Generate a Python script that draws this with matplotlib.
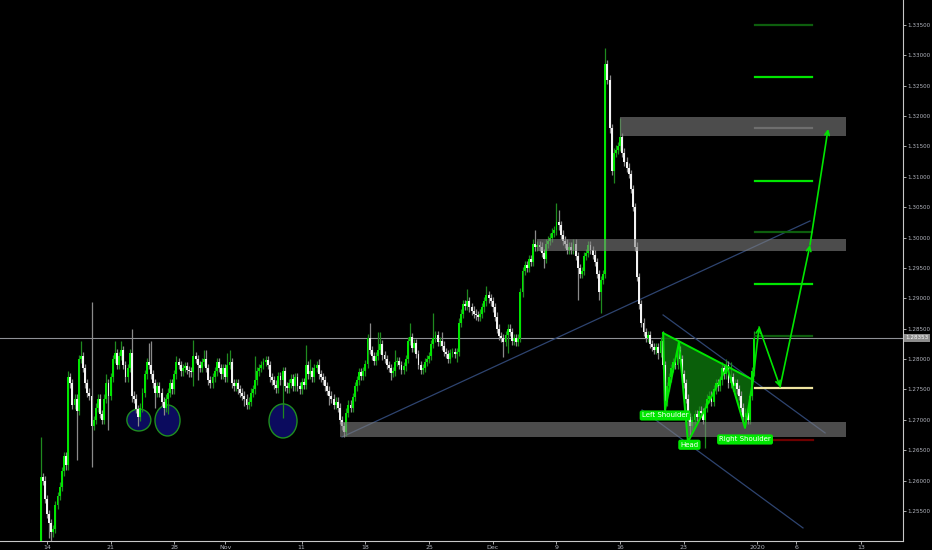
import numpy as np
import matplotlib
matplotlib.use("Agg")
import matplotlib.pyplot as plt
from matplotlib.patches import Rectangle, Ellipse, Polygon

# 4h candles, bar 0 = mon 14 oct 2019
first_bar = -3
first_open = 1.2480
closes = [
    1.2606, 1.2600, 1.2570, 1.2545, 1.2530, 1.2515, 1.2520, 1.2560, 1.2575, 1.2590,
    1.2615, 1.2640, 1.2625, 1.2770, 1.2760, 1.2725, 1.2735, 1.2715, 1.2800, 1.2805,
    1.2785, 1.2760, 1.2745, 1.2740, 1.2690, 1.2700, 1.2720, 1.2735, 1.2710, 1.2700,
    1.2735, 1.2760, 1.2740, 1.2770, 1.2800, 1.2810, 1.2790, 1.2805, 1.2815, 1.2790,
    1.2770, 1.2785, 1.2810, 1.2740, 1.2735, 1.2718, 1.2705, 1.2720, 1.2745, 1.2775,
    1.2795, 1.2790, 1.2775, 1.2760, 1.2745, 1.2755, 1.2745, 1.2730, 1.2720, 1.2735,
    1.2745, 1.2760, 1.2750, 1.2775, 1.2795, 1.2790, 1.2780, 1.2785, 1.2788, 1.2782,
    1.2780, 1.2778, 1.2805, 1.2800, 1.2790, 1.2785, 1.2795, 1.2800, 1.2785, 1.2765,
    1.2760, 1.2770, 1.2780, 1.2795, 1.2785, 1.2775, 1.2785, 1.2770, 1.2790, 1.2795,
    1.2760, 1.2755, 1.2760, 1.2750, 1.2745, 1.2740, 1.2735, 1.2725, 1.2730, 1.2745,
    1.2750, 1.2765, 1.2780, 1.2785, 1.2790, 1.2795, 1.2798, 1.2790, 1.2770, 1.2765,
    1.2758, 1.2752, 1.2772, 1.2765, 1.2780, 1.2755, 1.2752, 1.2760, 1.2768, 1.2755,
    1.2770, 1.2755, 1.2750, 1.2762, 1.2758, 1.2790, 1.2775, 1.2780, 1.2770, 1.2785,
    1.2790, 1.2775, 1.2770, 1.2765, 1.2755, 1.2748, 1.2740, 1.2735, 1.2725, 1.2730,
    1.2720, 1.2700, 1.2690, 1.2680, 1.2712, 1.2725, 1.2720, 1.2738, 1.2755, 1.2765,
    1.2778, 1.2772, 1.2780, 1.2792, 1.2835, 1.2815, 1.2805, 1.2797, 1.2805, 1.2815,
    1.2825, 1.2806, 1.2800, 1.2790, 1.2785, 1.2777, 1.2780, 1.2795, 1.2797, 1.2790,
    1.2782, 1.2788, 1.2800, 1.2830, 1.2836, 1.2818, 1.2826, 1.2808, 1.2790, 1.2782,
    1.2785, 1.2795, 1.2800, 1.2805, 1.2825, 1.2835, 1.2840, 1.2828, 1.2830, 1.2822,
    1.2812, 1.2808, 1.2800, 1.2810, 1.2812, 1.2808, 1.2812, 1.2860, 1.2875, 1.2890,
    1.2888, 1.2895, 1.2885, 1.2880, 1.2875, 1.2872, 1.2870, 1.2875, 1.2885, 1.2895,
    1.2905, 1.2900, 1.2895, 1.2885, 1.2870, 1.2850, 1.2838, 1.2835, 1.2828, 1.2840,
    1.2850, 1.2845, 1.2830, 1.2835, 1.2828, 1.2835, 1.2910, 1.2945, 1.2955, 1.2950,
    1.2965, 1.2960, 1.2990, 1.2985, 1.2988, 1.2985, 1.2975, 1.2965, 1.2990, 1.2995,
    1.3000, 1.3008, 1.3012, 1.3025, 1.3020, 1.3005, 1.2995, 1.2990, 1.2980, 1.2985,
    1.2980, 1.2990, 1.2970, 1.2950, 1.2940, 1.2945, 1.2970, 1.2975, 1.2988, 1.2980,
    1.2972, 1.2960, 1.2940, 1.2910, 1.2930, 1.2940, 1.3285, 1.3260, 1.3180, 1.3110,
    1.3140, 1.3145, 1.3150, 1.3165, 1.3140, 1.3125, 1.3115, 1.3105, 1.3080, 1.3050,
    1.2985, 1.2935, 1.2890, 1.2860, 1.2845, 1.2835, 1.2840, 1.2825, 1.2820, 1.2815,
    1.2820, 1.2810, 1.2830, 1.2790, 1.2730, 1.2755, 1.2770, 1.2785, 1.2795, 1.2790,
    1.2815, 1.2800, 1.2775, 1.2760, 1.2735, 1.2705, 1.2690, 1.2700, 1.2710, 1.2705,
    1.2715, 1.2712, 1.2700, 1.2720, 1.2735, 1.2740, 1.2730, 1.2750, 1.2760, 1.2755,
    1.2765, 1.2785, 1.2775, 1.2790, 1.2760, 1.2770, 1.2755, 1.2760, 1.2750, 1.2740,
    1.2720, 1.2705, 1.2712, 1.2700, 1.2740, 1.2780, 1.28353,
]

# long wicks (bar: price)
wick_highs = {-3: 1.2672, 10: 1.2780, 16: 1.2830, 21: 1.2894, 28: 1.2775, 32: 1.2830,
              35: 1.2830, 40: 1.2850, 48: 1.2827, 49: 1.2830, 61: 1.2805, 69: 1.2832,
              74: 1.2815, 75: 1.2815, 85: 1.2810, 86: 1.2815, 98: 1.2805, 102: 1.2802,
              122: 1.2824, 124: 1.2800, 128: 1.2800, 152: 1.2859, 156: 1.2845,
              157: 1.2845, 164: 1.2815, 171: 1.2859, 182: 1.2876, 186: 1.2845,
              198: 1.2915, 207: 1.2920, 230: 1.3013, 240: 1.3057, 241: 1.3045,
              263: 1.3312, 270: 1.3197, 290: 1.2847, 297: 1.2830, 318: 1.2795,
              320: 1.2800, 322: 1.2795, 333: 1.2846}
wick_lows = {-3: 1.2480, 1: 1.2505, 2: 1.2500, 14: 1.2634, 21: 1.2622, 29: 1.2683,
             40: 1.2730, 43: 1.2690, 51: 1.2720, 55: 1.2708, 57: 1.2710, 67: 1.2770,
             69: 1.2755, 71: 1.2765, 93: 1.2722, 94: 1.2718, 111: 1.2703, 133: 1.2725,
             140: 1.2672, 151: 1.2790, 162: 1.2765, 176: 1.2775, 177: 1.2775,
             193: 1.2795, 215: 1.2804, 217: 1.2810, 234: 1.2950, 250: 1.2897,
             260: 1.2897, 261: 1.2876, 267: 1.3090, 288: 1.2800, 291: 1.2712,
             303: 1.2675, 310: 1.2654, 328: 1.2695}

# axis labels
price_ticks = [1.255, 1.260, 1.265, 1.270, 1.275, 1.280, 1.285, 1.290, 1.295,
               1.300, 1.305, 1.310, 1.315, 1.320, 1.325, 1.330, 1.335]
date_ticks = [0, 30, 60, 84, 120, 150, 180, 210, 240, 270, 300, 334.4, 353, 383.4]
date_labels = ["14", "21", "28", "Nov", "11", "18", "25", "Dec", "9", "16", "23",
               "2020", "6", "13"]
last_price = 1.28353

# drawings
zones = [(138, 376.4, 1.2672, 1.2697), (230.8, 376.4, 1.2978, 1.2998),
         (269.9, 376.4, 1.3167, 1.3199)]
trend_line = [(139, 1.26718), (359.4, 1.30274)]
channel_top = [(290.2, 1.28727), (366.5, 1.26785)]
channel_bottom = [(280.3, 1.27163), (356.1, 1.25221)]
hs_points = [(290.2, 1.28430), (291.1, 1.27163), (297.7, 1.28282), (301.9, 1.26636),
             (320.3, 1.27871), (328.8, 1.26867), (332.6, 1.27657)]
path_points = [(332.6, 1.27657), (335.4, 1.28529), (345.3, 1.27541), (359.4, 1.29879),
               (367.9, 1.31788)]
target_levels = [1.3350, 1.32644, 1.31805, 1.30932, 1.30093, 1.29237, 1.28381, 1.27525]
target_colors = ["#0d5e0d", "#00e600", "#6e6e6e", "#00e600", "#0d5e0d", "#00e600",
                 "#0d5e0d", "#efe4a0"]
stop_level = 1.26668
circles = [(43.3, 1.26998, 11.3, 0.00362), (56.8, 1.26990, 11.8, 0.0051),
           (111.2, 1.26982, 13.2, 0.0056)]
labels = [(291.1, 1.27072, "Left Shoulder"), (302.6, 1.26590, "Head"),
          (328.8, 1.26677, "Right Shoulder")]

bg = "#000000"
axis_col = "#c8c8c8"
text_col = "#b2b5be"
green = "#00e600"

fig = plt.figure(figsize=(9.32, 5.5), dpi=100, facecolor=bg)
ax = fig.add_axes([0, 9 / 550, 903 / 932, 541 / 550])
ax.set_facecolor(bg)

c = np.array(closes)
o = np.r_[first_open, c[:-1]]
x = np.arange(first_bar, first_bar + len(c))
h = np.maximum(o, c) + 0.0007
l = np.minimum(o, c) - 0.0007
for b, v in wick_highs.items():
    h[b - first_bar] = max(h[b - first_bar], v)
for b, v in wick_lows.items():
    l[b - first_bar] = min(l[b - first_bar], v)

up = c >= o
# wicks then bodies
ax.vlines(x[up], l[up], h[up], color="#1f8a1f", lw=0.9, zorder=3)
ax.vlines(x[~up], l[~up], h[~up], color="#8a8a8a", lw=0.9, zorder=3)
body = np.maximum(np.abs(c - o), 0.0001)
ax.bar(x[up], body[up], bottom=np.minimum(o, c)[up], width=0.9, color=green,
       linewidth=0, zorder=3)
ax.bar(x[~up], body[~up], bottom=np.minimum(o, c)[~up], width=0.9, color="#f2f2f2",
       linewidth=0, zorder=3)

# blue circles under the candles
for cx, cy, w, hh in circles:
    ax.add_patch(Ellipse((cx, cy), w, hh, facecolor="#0b0b5e", edgecolor="#1f8f1f",
                         lw=1, zorder=1))

# current price line
ax.axhline(last_price, color="#8f9196", lw=0.8, zorder=2)

# trend line + channel
for line in (trend_line, channel_top, channel_bottom):
    ax.plot([line[0][0], line[1][0]], [line[0][1], line[1][1]], color="#2e4470",
            lw=0.9, zorder=2)

# grey zones drawn over candles
for x0, x1, y0, y1 in zones:
    ax.add_patch(Rectangle((x0, y0), x1 - x0, y1 - y0, facecolor="#808080",
                           alpha=0.6, lw=0, zorder=4))

# head and shoulders, fill sits under the candles
ax.add_patch(Polygon(hs_points, closed=True, facecolor="#0c6a0c", alpha=0.9,
                     edgecolor="none", zorder=2.5))
hx, hy = zip(*hs_points)
ax.plot(hx, hy, color=green, lw=1.4, zorder=6)
ax.plot([hx[0], hx[-1]], [hy[0], hy[-1]], color=green, lw=1.4, zorder=6)

# projected path
for p0, p1 in zip(path_points[:-1], path_points[1:]):
    ax.annotate("", xy=p1, xytext=p0, zorder=6,
                arrowprops=dict(arrowstyle="->", color=green, lw=1.2,
                                mutation_scale=8, shrinkA=0, shrinkB=0))

# target levels
for lev, col in zip(target_levels, target_colors):
    ax.plot([333.5, 360.3], [lev, lev], color=col, lw=1.6, zorder=5)
ax.plot([340.6, 360.8], [stop_level, stop_level], color="#6e0000", lw=1.6, zorder=5)

for lx, ly, txt in labels:
    ax.text(lx, ly, txt, color="white", fontsize=5, ha="center", va="center",
            zorder=7, bbox=dict(boxstyle="round,pad=0.3", facecolor=green,
                                edgecolor="none"))

ax.set_xlim(-22.1, 403.2)
ax.set_ylim(1.25006, 1.33911)

ax.yaxis.tick_right()
ax.set_yticks(price_ticks)
ax.set_yticklabels(["%.5f" % p for p in price_ticks])
ax.set_xticks(date_ticks)
ax.set_xticklabels(date_labels)
ax.tick_params(axis="y", colors=axis_col, labelcolor=text_col, labelsize=4.1,
               length=2, width=0.6, pad=1)
ax.tick_params(axis="x", colors=axis_col, labelcolor=text_col, labelsize=4.5,
               length=2, width=0.6, pad=1)
for s in ("top", "left"):
    ax.spines[s].set_visible(False)
for s in ("right", "bottom"):
    ax.spines[s].set_color(axis_col)
    ax.spines[s].set_linewidth(0.8)

# last price tag on the axis
ax.annotate("%.5f" % last_price, xy=(1.0, last_price),
            xycoords=("axes fraction", "data"), xytext=(2, 0),
            textcoords="offset points", color="white", fontsize=4.1, va="center",
            ha="left", annotation_clip=False,
            bbox=dict(boxstyle="square,pad=0.25", facecolor="#8c8c8c", edgecolor="none"))

plt.savefig("out.png", dpi=100, facecolor=bg)
